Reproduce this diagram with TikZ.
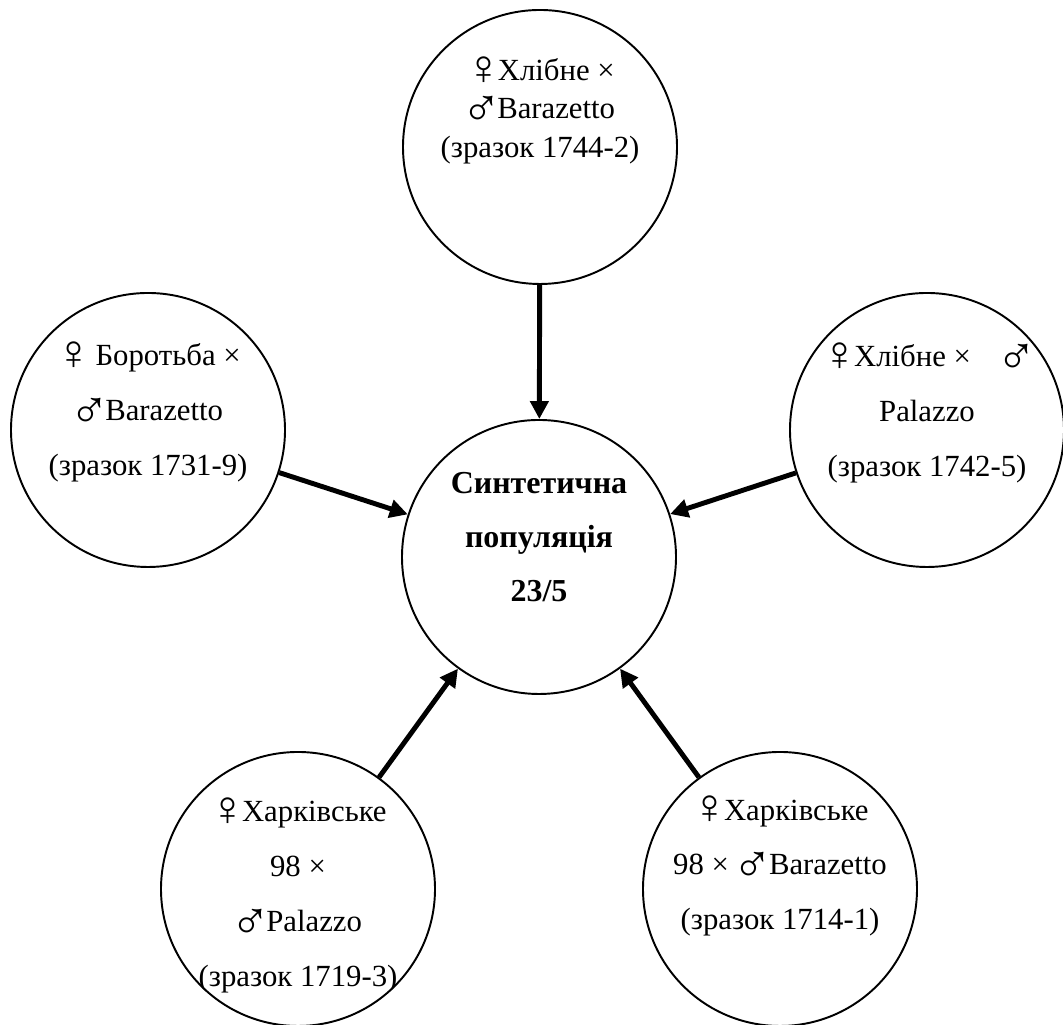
\documentclass[tikz,border=0pt]{standalone}
\usepackage{fontspec}
\setmainfont{Liberation Serif}
\newfontfamily\femfont{Liberation Serif}[Scale=1.6]
\newfontfamily\malfont{Liberation Serif}[Scale=1.75]
\newcommand{\fem}{\smash{\raisebox{-0.12em}{\femfont ♀}}\kern-0.14em}
\newcommand{\mal}{\kern-0.12em\smash{\raisebox{-0.26em}{\malfont ♂}}\kern-0.14em}
\usetikzlibrary{arrows.meta}
\tikzset{
  disc/.style={circle, draw, line width=1.1pt, minimum size=5.48cm, inner sep=0pt},
  txt/.style={align=center, font=\fontsize{17.5}{31.2}\selectfont},
  arr/.style={line width=2.8pt, -{Triangle[length=0.36cm, width=0.36cm]}}
}

\begin{document}
\begin{tikzpicture}

\useasboundingbox (0, 0) rectangle (21.26, 20.5);

\node[disc] (centre) at (10.78, 9.36) {};
\node[disc] (top) at (10.80, 17.56) {};
\node[disc] (left) at (2.96, 11.90) {};
\node[disc] (right) at (18.54, 11.90) {};
\node[disc] (botleft) at (5.96, 2.72) {};
\node[disc] (botright) at (15.60, 2.72) {};

\node[txt, font=\fontsize{18.2}{30.8}\selectfont\bfseries] (centretext) at ([yshift=0.40cm]centre.center)
  {Синтетична\\популяція\\23/5};
\node[txt, font=\fontsize{17.5}{21.8}\selectfont] (toptext) at ([yshift=0.72cm]top.center)
  {\fem Хлібне ×\\\mal Barazetto\\(зразок 1744-2)};
\node[txt] (lefttext) at ([yshift=0.34cm]left.center)
  {\fem{} Боротьба ×\\\mal Barazetto\\(зразок 1731-9)};
\node[txt] (righttext) at ([yshift=0.32cm]right.center)
  {\fem Хлібне ×\hspace{0.7em} \mal\\Palazzo\\(зразок 1742-5)};
\node[txt] (botlefttext) at ([yshift=-0.16cm]botleft.center)
  {\fem Харківське\\98 ×\\\mal Palazzo\\(зразок 1719-3)};
\node[txt] (botrighttext) at ([yshift=0.42cm]botright.center)
  {\fem Харківське\\98 × \mal Barazetto\\(зразок 1714-1)};

\draw[arr] (top) -- (centre);
\draw[arr] (left) -- (centre);
\draw[arr] (right) -- (centre);
\draw[arr] (botleft) -- (centre);
\draw[arr] (botright) -- (centre);

\end{tikzpicture}
\end{document}
